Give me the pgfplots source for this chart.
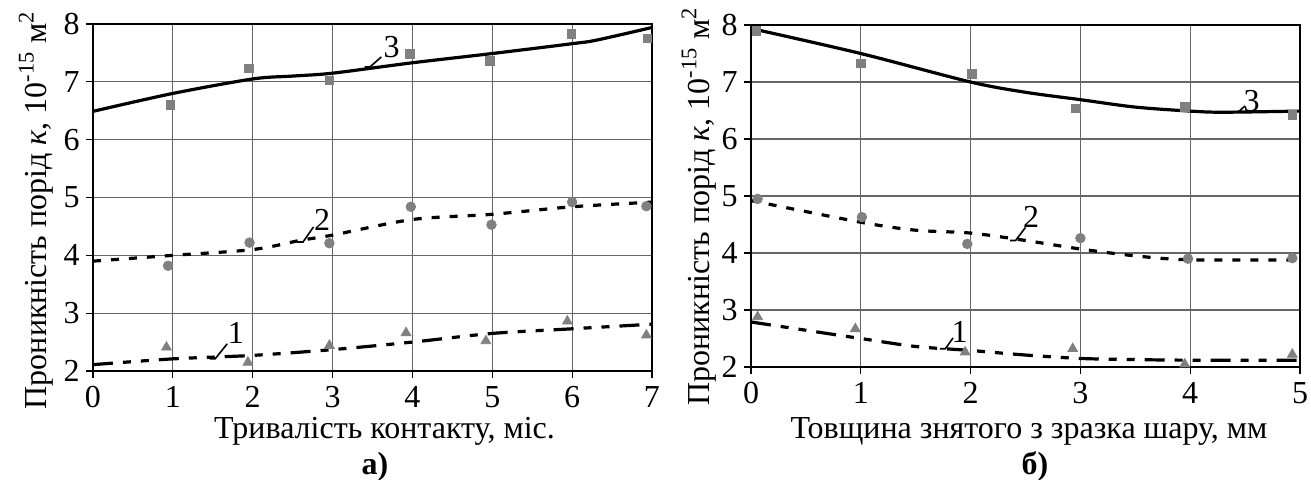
\documentclass[border=0pt]{standalone}
\usepackage{fontspec}
\setmainfont{Liberation Serif}
\usepackage{pgfplots}
\pgfplotsset{compat=1.18}
\definecolor{mk}{RGB}{128,128,128}
\newcommand{\fs}{\fontsize{16}{19}\selectfont}
\pgfplotsset{
  myaxis/.style={
    scale only axis,
    anchor=south west,
    xmin=0, ymin=2, ymax=8,
    ytick={2,...,8},
    grid=major,
    grid style={black!60, line width=0.6pt},
    axis line style={line width=0.8pt},
    tick align=outside,
    major tick length=3.5pt,
    tick style={black, line width=0.6pt},
    xtick pos=bottom, ytick pos=left,
    /pgf/number format/assume math mode=true,
    tick label style={font=\fs},
    yticklabel style={inner xsep=3pt},
    xticklabel style={inner ysep=4pt},
    label style={font=\fs},
    ylabel={Проникність порід \textit{к}, 10\textsuperscript{-15} м\textsuperscript{2}},
    clip=false,
  },
  c3/.style={black, line width=1.6pt, smooth, no markers},
  c2/.style={black, line width=1.6pt, smooth, no markers, dash pattern=on 4pt off 5pt},
  c1/.style={black, line width=1.6pt, smooth, no markers, dash pattern=on 10pt off 5pt on 4pt off 5pt on 4pt off 5pt},
  msq/.style={only marks, mark=square*, mark size=2.1pt, mk, mark options={draw=mk, fill=mk}},
  mci/.style={only marks, mark=*, mark size=2.4pt, mk, mark options={draw=mk, fill=mk}},
  mtr/.style={only marks, mark=triangle*, mark size=2.8pt, mk, mark options={draw=mk, fill=mk}},
}
\begin{document}
\begin{tikzpicture}
\useasboundingbox (0,0) rectangle (655.5pt,239.5pt);
% ---------- left (a) ----------
\begin{axis}[myaxis,
  at={(46.5pt,54pt)}, width=279.5pt, height=173.5pt,
  xmax=7, xtick={0,...,7},
  xlabel={Тривалість контакту, міс.},
  ylabel style={at={(axis description cs:-0.084,0.464)}, anchor=base},
  xlabel style={at={(axis description cs:0.5,0)}, anchor=base, yshift=-33.5pt, xshift=6pt},
]
\addplot[msq] coordinates {(0.97,6.60) (1.95,7.23) (2.96,7.03) (3.97,7.48) (4.97,7.36) (5.99,7.83) (6.94,7.75)};
\addplot[mci] coordinates {(0.94,3.82) (1.96,4.22) (2.96,4.21) (3.98,4.84) (4.99,4.53) (6.0,4.92) (6.93,4.85)};
\addplot[mtr] coordinates {(0.92,2.41) (1.94,2.15) (2.96,2.44) (3.92,2.66) (4.92,2.52) (5.94,2.86) (6.93,2.62)};
\addplot[c3] coordinates {(0,6.49) (1,6.80) (2,7.05) (2.5,7.10) (3,7.15) (4,7.33) (5,7.49) (6,7.66) (6.3,7.72) (7,7.94)};
\addplot[c2] coordinates {(0,3.90) (1,4.00) (2,4.10) (2.6,4.26) (3,4.35) (4,4.62) (5,4.71) (6,4.84) (7,4.92)};
\addplot[c1] coordinates {(0,2.11) (1,2.21) (2,2.27) (3,2.37) (4,2.50) (5,2.65) (6,2.73) (7,2.81)};
\draw[line width=0.8pt] (axis cs:3.40,7.26) -- (axis cs:3.47,7.26) -- (axis cs:3.61,7.43);
\node[font=\fs] at (axis cs:3.74,7.61) {3};
\draw[line width=0.8pt] (axis cs:2.56,4.23) -- (axis cs:2.63,4.23) -- (axis cs:2.76,4.49);
\node[font=\fs] at (axis cs:2.87,4.61) {2};
\draw[line width=0.8pt] (axis cs:1.46,2.21) -- (axis cs:1.53,2.21) -- (axis cs:1.68,2.47);
\node[font=\fs] at (axis cs:1.79,2.65) {1};
\node[font=\fs\bfseries, anchor=base] at (axis description cs:0.5,0) [yshift=-51.5pt, xshift=1.25pt] {а)};
\end{axis}
% ---------- right (b) ----------
\begin{axis}[myaxis,
  at={(375.5pt,56pt)}, width=274.5pt, height=171pt,
  xmax=5, xtick={0,...,5},
  xlabel={Товщина знятого з зразка шару, мм},
  ylabel style={at={(axis description cs:-0.0765,0.47)}, anchor=base},
  xlabel style={at={(axis description cs:0.5,0)}, anchor=base, yshift=-35.5pt, xshift=1.75pt},
]
\addplot[msq] coordinates {(0.05,7.90) (1.0,7.33) (2.01,7.14) (2.96,6.54) (3.95,6.56) (4.93,6.42)};
\addplot[mci] coordinates {(0.06,4.95) (1.01,4.63) (1.97,4.16) (3.0,4.26) (3.98,3.90) (4.93,3.91)};
\addplot[mtr] coordinates {(0.06,2.88) (0.95,2.67) (1.95,2.26) (2.93,2.32) (3.95,2.05) (4.93,2.22)};
\addplot[c3] coordinates {(0,7.94) (1,7.50) (2,7.00) (2.5,6.82) (3,6.69) (3.5,6.56) (4,6.49) (4.3,6.47) (5,6.49)};
\addplot[c2] coordinates {(0,4.92) (1,4.54) (1.5,4.40) (2,4.35) (2.5,4.22) (3,4.07) (3.5,3.95) (4,3.88) (5,3.88)};
\addplot[c1] coordinates {(0,2.79) (1,2.50) (1.5,2.36) (2,2.29) (2.5,2.21) (3,2.15) (3.5,2.13) (4,2.12) (5,2.12)};
\draw[line width=0.8pt] (axis cs:4.39,6.48) -- (axis cs:4.44,6.48) -- (axis cs:4.50,6.58);
\node[font=\fs] at (axis cs:4.56,6.67) {3};
\draw[line width=0.8pt] (axis cs:2.36,4.22) -- (axis cs:2.41,4.22) -- (axis cs:2.50,4.45);
\node[font=\fs] at (axis cs:2.55,4.63) {2};
\draw[line width=0.8pt] (axis cs:1.72,2.32) -- (axis cs:1.77,2.32) -- (axis cs:1.84,2.51);
\node[font=\fs] at (axis cs:1.90,2.61) {1};
\node[font=\fs\bfseries, anchor=base] at (axis description cs:0.5,0) [yshift=-53.5pt, xshift=4.75pt] {б)};
\end{axis}
\end{tikzpicture}
\end{document}
